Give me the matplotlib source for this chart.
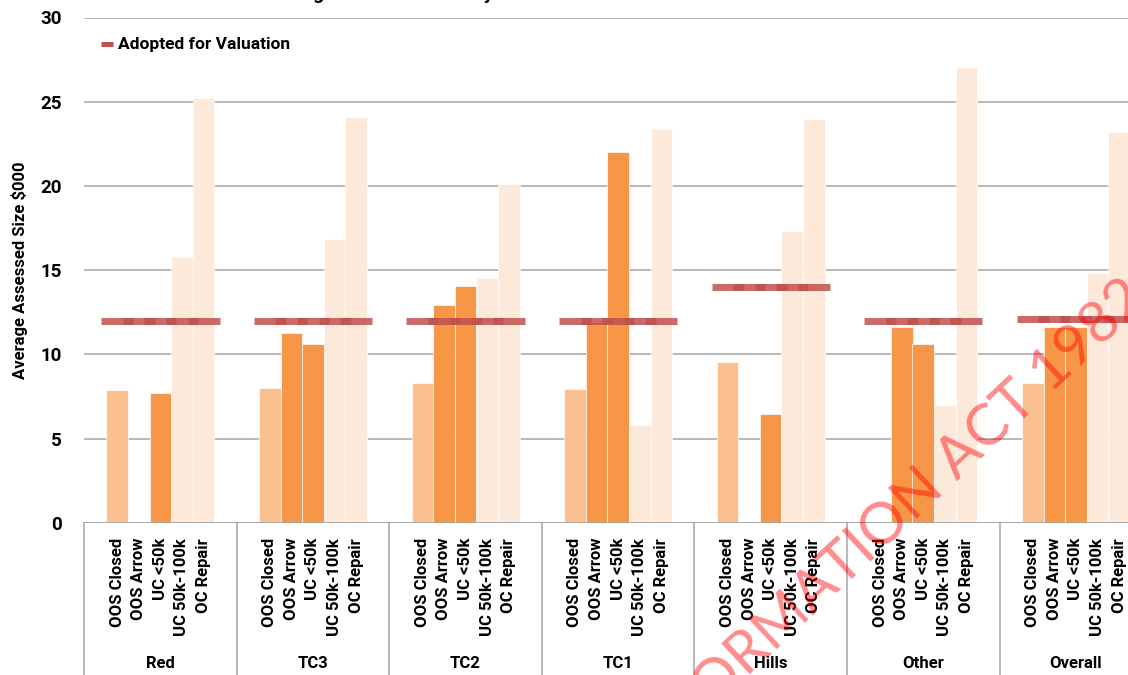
import numpy as np
import matplotlib.pyplot as plt
from matplotlib.lines import Line2D

plt.rcParams['font.family'] = ['Roboto', 'DejaVu Sans']

groups = ['Red', 'TC3', 'TC2', 'TC1', 'Hills', 'Other', 'Overall']
types = ['OOS Closed', 'OOS Arrow', 'UC <50k', 'UC 50k-100k', 'OC Repair']

# average assessed size ($000) per group, one list per type
oos_closed = [7.9, 8.0, 8.3, 7.95, 9.55, np.nan, 8.3]
oos_arrow = [np.nan, 11.25, 12.9, 11.9, np.nan, 11.6, 11.6]
uc_lt50k = [7.7, 10.6, 14.05, 22.0, 6.45, 10.6, 11.6]
uc_50_100k = [15.8, 16.85, 14.55, 5.8, 17.35, 7.0, 14.8]
oc_repair = [25.2, 24.1, 20.1, 23.4, 23.95, 27.05, 23.2]
adopted = [12, 12, 12, 12, 14, 12, 12.1]

series = [oos_closed, oos_arrow, uc_lt50k, uc_50_100k, oc_repair]
colors = ['#FAC090', '#F79646', '#F79646', '#FDE9D9', '#FDE9D9']
line_col = '#C0504D'

W, H = 1128, 675
fig = plt.figure(figsize=(W / 100, H / 100), dpi=100)
gw = 152.6  # pixel width of one group
ax = fig.add_axes([84 / W, 152.3 / H, gw * 7 / W, 505.2 / H])

bw = 21.6 / gw
gx = np.arange(len(groups))
for k, (vals, c) in enumerate(zip(series, colors)):
    xs = gx + 0.5 + (k - 2) * bw
    ax.bar(xs, vals, width=bw, color=c, edgecolor='white', linewidth=0.5, zorder=2)

# adopted value drawn as wide dash markers over each bar slot
for i, v in enumerate(adopted):
    xs = i + 0.5 + (np.arange(5) - 2) * bw
    ax.plot(xs, [v] * 5, ls='none', marker='_', ms=23, mew=5,
            color=line_col, alpha=0.85, zorder=4)

ax.set_xlim(0, 7)
ax.set_ylim(0, 30)
ax.set_yticks(range(0, 31, 5))
ax.yaxis.grid(True, color='#A6A6A6', lw=1.1, zorder=0)
ax.set_axisbelow(True)
ax.axhline(0, color='#A6A6A6', lw=1.3, zorder=5)
for s in ax.spines.values():
    s.set_visible(False)
ax.tick_params(axis='y', length=0, pad=16, labelsize=13.5)
for t in ax.get_yticklabels():
    t.set_fontweight('bold')

tick_x = [i + 0.5 + (k - 2) * bw for i in gx for k in range(5)]
ax.set_xticks(tick_x)
ax.set_xticklabels(types * len(groups), rotation=90, fontsize=12,
                   fontweight='bold', va='top', ha='center')
ax.tick_params(axis='x', length=0, pad=11)

ax.set_ylabel('Average Assessed Size $000', fontsize=12, fontweight='bold',
              labelpad=9)

# group boxes under the axis
for i in range(len(groups) + 1):
    x = (84 + gw * i) / W
    fig.add_artist(Line2D([x, x], [0, 152.3 / H], color='#A6A6A6', lw=1.1))
for i, g in enumerate(groups):
    fig.text((84 + gw * (i + 0.5)) / W, 12 / H, g, ha='center', va='center',
             fontsize=12, fontweight='bold')

# legend
fig.add_artist(Line2D([101 / W, 113 / W], [1 - 44 / H] * 2, color=line_col,
                      lw=3.6, solid_capstyle='butt'))
fig.text(118 / W, 1 - 44 / H, 'Adopted for Valuation', va='center',
         fontsize=12.5, fontweight='bold')

# title sits mostly above the top edge
fig.text(262 / W, 1 + 1 / H, 'Average Assessed Size by Area', ha='left',
         va='baseline', fontsize=14, fontweight='bold')

# release stamp
fig.text(1150 / W, 1 - 302 / H, 'RELEASED UNDER THE FREEDOM OF INFORMATION ACT 1982',
         rotation=43, rotation_mode='anchor', ha='right', va='baseline',
         fontsize=42, family=['Lato', 'DejaVu Sans'], fontweight='normal',
         color='red', alpha=0.45, zorder=10)

fig.savefig('out.png', dpi=100)
